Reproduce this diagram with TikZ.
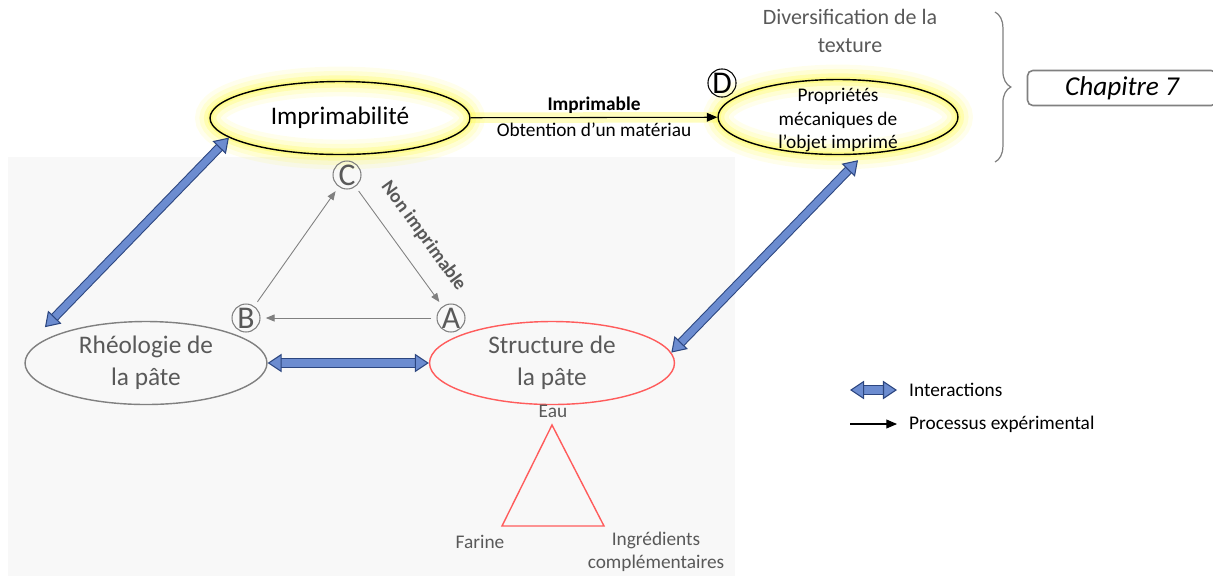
\documentclass[tikz,border=0pt]{standalone}
\usepackage{fontspec}
\setmainfont{Carlito}
\usetikzlibrary{arrows.meta,shapes.geometric,decorations.pathreplacing}
\definecolor{intblue}{RGB}{108,140,208}
\definecolor{intline}{RGB}{44,70,128}
\definecolor{txtgray}{RGB}{89,89,89}
\definecolor{linegray}{RGB}{128,128,128}
\definecolor{pastered}{RGB}{255,92,92}
\definecolor{glowyellow}{RGB}{255,250,70}
\definecolor{bggray}{RGB}{248,248,248}
\tikzset{
  bigtext/.style={font=\fontsize{14.4}{18}\selectfont},
  smalltext/.style={font=\fontsize{11}{13.3}\selectfont},
  shell/.style={ellipse, inner sep=0pt, align=center, line width=0.8pt},
  glow/.style={preaction={draw=glowyellow, line width=17pt, opacity=0.1},
               preaction={draw=glowyellow, line width=12pt, opacity=0.15},
               preaction={draw=glowyellow, line width=7pt, opacity=0.25},
               preaction={draw=glowyellow, line width=3pt, opacity=0.35}},
  letter/.style={circle, draw=linegray, text=txtgray, inner sep=0pt, minimum size=0.56cm,
                 line width=0.6pt, font=\fontsize{18}{18}\selectfont},
  proc/.style={draw=linegray, line width=0.5pt, -{Triangle[length=5pt,width=4pt]},
               shorten >=3pt, shorten <=3pt},
  inter/.style={draw=intblue, line width=4pt,
    {Triangle[length=8pt,width=10.5pt,color=intline,fill=intblue,line width=0.6pt]}-{Triangle[length=8pt,width=10.5pt,color=intline,fill=intblue,line width=0.6pt]},
    preaction={draw=intline, line width=5.2pt, -, shorten <=4.5pt, shorten >=4.5pt}}
}
\begin{document}
\begin{tikzpicture}[x=0.02cm,y=-0.02cm]
  \useasboundingbox (0,0) rectangle (1213,576);
  \fill[bggray] (8,157) rectangle (735,576);
  % ellipses
  \node[shell, glow, draw=black, bigtext, minimum width=5.2cm, minimum height=1.46cm] (impr) at (340,118) {Imprimabilit\'e};
  \node[shell, glow, draw=black, minimum width=4.8cm, minimum height=1.5cm] (prop) at (838,117) {};
  \node[smalltext, align=center] (proptext) at ([shift={(0,3)}]prop.center) {Propri\'et\'es\\m\'ecaniques de\\l’objet imprim\'e};
  \node[shell, draw=linegray, text=txtgray, bigtext, minimum width=4.84cm, minimum height=1.66cm] (rheo) at (146,363) {Rh\'eologie de\\la p\^ate};
  \node[shell, draw=pastered, text=txtgray, bigtext, minimum width=4.9cm, minimum height=1.66cm] (struct) at (552,363) {Structure de\\la p\^ate};
  % letters
  \foreach \n/\x/\y in {A/451/318, B/246/318, C/347/175}
    \node[letter] (l\n) at (\x,\y) {\n};
  \node[letter, draw=black, text=black] (lD) at (722,83) {D};
  % experimental process
  \draw[proc] (lA) -- (lB);
  \draw[proc] (lB) -- (lC);
  \draw[proc] (lC) -- node[sloped, above=6.5pt, pos=0.54, text=txtgray, font=\fontsize{11}{13}\selectfont\bfseries] (nonimp) {Non imprimable} (lA);
  \draw[line width=0.6pt, -{Triangle[length=6pt,width=5pt]},
        preaction={draw=glowyellow, line width=6pt, opacity=0.35, -}] (impr) --
    node[above=1pt, inner sep=1pt, smalltext, font=\fontsize{11}{13}\selectfont\bfseries] (lblimp) {Imprimable}
    node[below=2pt, inner sep=1pt, smalltext] (lblobt) {Obtention d’un mat\'eriau} (prop);
  % interactions
  \draw[inter] ([shift={(-15,-6)}]rheo.north west) -- (impr.190);
  \draw[inter] (rheo) -- (struct);
  \draw[inter] (struct.5) -- ([shift={(20,5)}]prop.south);
  % dough composition
  \node[smalltext, text=txtgray] (eau) at (553,411) {Eau};
  \node[smalltext, text=txtgray] (farine) at (480,542) {Farine};
  \node[smalltext, text=txtgray, align=center] (ingr) at (656,552) {Ingr\'edients\\compl\'ementaires};
  \draw[pastered, line width=0.8pt] (552,425) -- (502,526) -- (604,526) -- cycle;
  % chapter
  \node[text=txtgray, font=\fontsize{12.5}{15.5}\selectfont, align=center] (divers) at (850,31) {Diversification de la\\texture};
  \coordinate (bracetop) at (995,12);
  \coordinate (bracebot) at (995,162);
  \draw[linegray, line width=0.7pt, decorate, decoration={brace, amplitude=9pt}] (bracetop) -- (bracebot);
  \node[draw=linegray, line width=0.9pt, rounded corners=3pt, minimum width=3.78cm, minimum height=0.64cm,
        font=\fontsize{15.5}{16}\selectfont\itshape] (chap) at (1122,88) {Chapitre 7};
  % legend
  \node[smalltext, anchor=west] (leginter) at (903,390) {Interactions};
  \node[smalltext, anchor=west] (legproc) at (903,424) {Processus exp\'erimental};
  \coordinate (legia) at (850,390);
  \coordinate (legpa) at (850,424);
  \draw[inter] (legia) -- ([shift={(-6,0)}]leginter.west);
  \draw[line width=0.6pt, -{Triangle[length=6pt,width=5pt]}] (legpa) -- ([shift={(-6,0)}]legproc.west);
\end{tikzpicture}
\end{document}
